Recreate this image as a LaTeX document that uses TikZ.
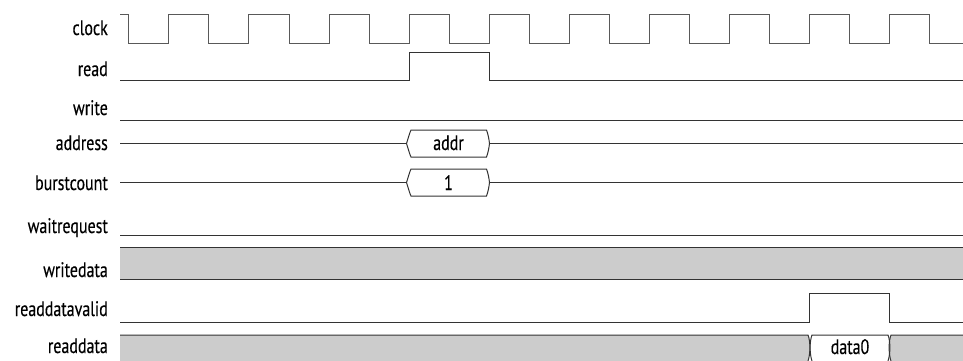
\documentclass[tikz,border=0pt]{standalone}
\usepackage{fontspec}
\setmainfont{PT Sans}[FakeStretch=0.76,FakeBold=0.3]
\newcommand\mybusbox[1]{%
  \draw[sig] (120,#1) -- (406.5,#1);
  \draw[sig] (406.5,#1) .. controls (408,#1-4.5) and (409.5,#1-10.5) .. (411,#1-13.5)
     -- (486.5,#1-13.5) .. controls (488,#1-9.5) and (489,#1-4.5) .. (489.5,#1)
     .. controls (489,#1+4.5) and (488,#1+9.5) .. (486.5,#1+13.5)
     -- (411,#1+13.5) .. controls (409.5,#1+10.5) and (408,#1+4.5) .. (406.5,#1) -- cycle;
  \draw[sig] (489.5,#1) -- (963,#1);}
\begin{document}
\begin{tikzpicture}[x=1pt,y=-1pt,
  sig/.style={line width=1pt, draw=black!80},
  clk/.style={line width=1pt, draw=black!65},
  lbl/.style={anchor=base east, inner sep=0pt, font=\fontsize{21}{25}\selectfont},
  val/.style={anchor=base, inner sep=0pt, font=\fontsize{21}{25}\selectfont},
  busfill/.style={fill=black!20}]
\useasboundingbox (0,0) rectangle (963,360);
% labels
\node[lbl] (lclock) at (108,35) {clock};
\node[lbl] (lread) at (108,76) {read};
\node[lbl] (lwrite) at (108,115) {write};
\node[lbl] (laddress) at (108,150) {address};
\node[lbl] (lburst) at (108,190) {burstcount};
\node[lbl] (lwait) at (108,233) {waitrequest};
\node[lbl] (lwdata) at (108,277) {writedata};
\node[lbl] (lrdv) at (108,316) {readdatavalid};
\node[lbl] (lrdata) at (108,353) {readdata};
% clock
\draw[clk] (120,14) -- (128.8,14) -- (128.8,43)
  foreach \k in {0,...,9} { -- ({168.85+80.1*\k},43) -- ({168.85+80.1*\k},14)
     -- ({208.9+80.1*\k},14) -- ({208.9+80.1*\k},43) } -- (963,43);
% read
\draw[sig] (120,80) -- (409.2,80) -- (409.2,52) -- (489.3,52) -- (489.3,80) -- (963,80);
% write
\draw[sig] (120,120) -- (963,120);
% address / burstcount
\mybusbox{143.5}
\mybusbox{182.5}
\node[val] (vaddr) at (448.5,150) {addr};
\node[val] (vburst) at (448.5,190) {1};
% waitrequest
\draw[sig] (120,235) -- (963,235);
% writedata
\fill[busfill] (120,247) rectangle (963,279);
\draw[sig] (120,247) -- (963,247);
\draw[sig] (120,279) -- (963,279);
% readdatavalid
\draw[sig] (120,322) -- (809.6,322) -- (809.6,293) -- (889.7,293) -- (889.7,322) -- (963,322);
% readdata
\fill[busfill] (120,335) -- (808,335) .. controls (810.5,341) and (810.5,354) .. (808,361) -- (120,361) -- cycle;
\fill[busfill] (891,335) .. controls (888.5,341) and (888.5,354) .. (891,361) -- (964,361) -- (964,335) -- cycle;
\draw[sig] (120,335) -- (808,335) .. controls (810.5,341) and (810.5,354) .. (808,361);
\draw[sig] (812,361) .. controls (809.5,354) and (809.5,341) .. (812,335) -- (888,335)
   .. controls (890.5,341) and (890.5,354) .. (888,361);
\draw[sig] (891,361) .. controls (888.5,354) and (888.5,341) .. (891,335) -- (964,335);
\node[val] (vdata) at (850,354) {data0};
\end{tikzpicture}
\end{document}
